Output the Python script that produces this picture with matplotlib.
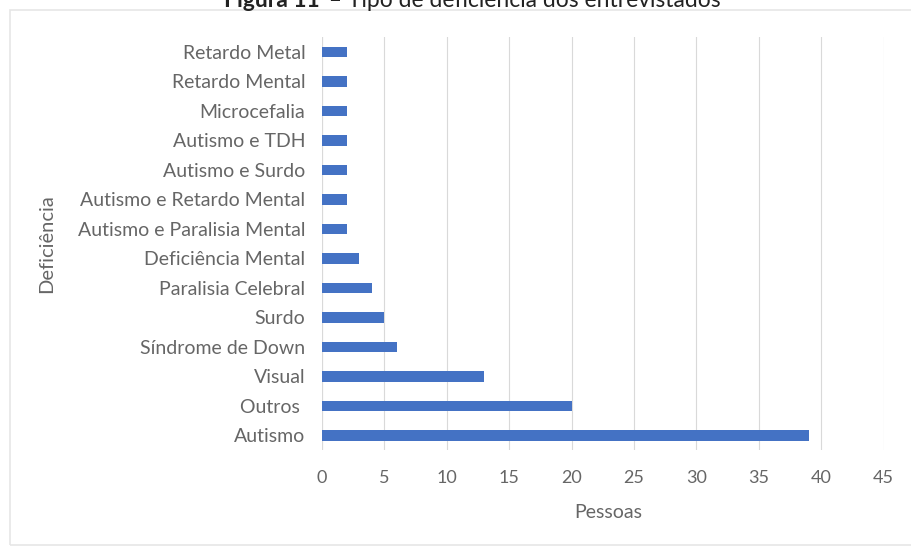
import matplotlib.pyplot as plt
from matplotlib.patches import Rectangle

categorias = ['Autismo', 'Outros ', 'Visual', 'Síndrome de Down', 'Surdo',
              'Paralisia Celebral', 'Deficiência Mental',
              'Autismo e Paralisia Mental', 'Autismo e Retardo Mental',
              'Autismo e Surdo', 'Autismo e TDH', 'Microcefalia',
              'Retardo Mental', 'Retardo Metal']
pessoas = [39, 20, 13, 6, 5, 4, 3, 2, 2, 2, 2, 2, 2, 2]
xticks = [0, 5, 10, 15, 20, 25, 30, 35, 40, 45]

plt.rcParams['font.family'] = ['Lato', 'DejaVu Sans']
cinza = '#666666'

fig = plt.figure(figsize=(9.12, 5.47), dpi=100)
ax = fig.add_axes([0.353, 0.177, 0.616, 0.755])

ax.barh(range(len(categorias)), pessoas, height=0.35, color='#4472C4', zorder=3)
ax.set_yticks(range(len(categorias)))
ax.set_yticklabels(categorias, color=cinza, fontsize=14)
ax.set_ylim(-0.5, len(categorias) - 0.5)
ax.set_xlim(0, 45)
ax.set_xticks(xticks)
ax.set_xticklabels([str(v) for v in xticks], color=cinza, fontsize=13)
ax.tick_params(axis='x', length=0, pad=14)
ax.tick_params(axis='y', length=0, pad=12)
ax.grid(axis='x', color='#d9d9d9', lw=0.8, zorder=0)
for s in ax.spines.values():
    s.set_visible(False)
ax.axvline(0, color='#d9d9d9', lw=0.8, zorder=1)

ax.set_xlabel('Pessoas', color=cinza, fontsize=14)
ax.xaxis.set_label_coords(0.51, -0.13)
ax.set_ylabel('Deficiência', color=cinza, fontsize=14.5)
ax.yaxis.set_label_coords(-0.475, 0.5)

# moldura do gráfico
fig.patches.append(Rectangle((0.0105, 0.003), 1.0, 0.978, transform=fig.transFigure,
                             fill=False, edgecolor='#e6e6e6', lw=1.2))

# título cortado no topo
fig.text(0.351, 0.987, 'Figura 11', ha='right', va='baseline',
         fontsize=16.5, fontweight='bold', color='#222222')
fig.text(0.354, 0.987, ' – Tipo de deficiência dos entrevistados', ha='left',
         va='baseline', fontsize=16.5, color='#222222')

fig.savefig('out.png', dpi=100)
